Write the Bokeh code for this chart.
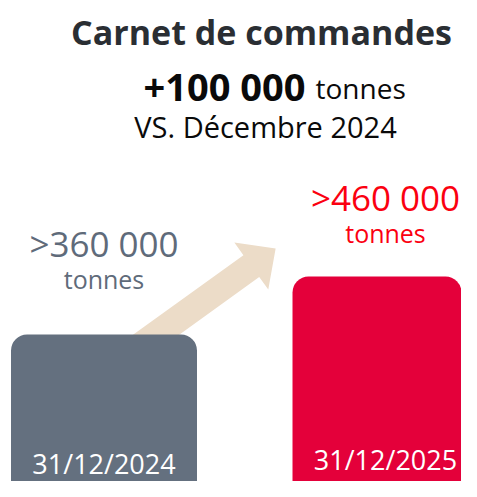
import math
from bokeh.plotting import figure
from bokeh.models import Range1d
from bokeh.embed import file_html
from bokeh.resources import INLINE
from bokeh.core.properties import value

# ---- data ----
categories = ["31/12/2024", "31/12/2025"]
values = [360000, 460000]
value_labels = [">360 000", ">460 000"]
unit_label = "tonnes"
title_text = "Carnet de commandes"
delta_text = "+100 000"
compare_text = "VS. Décembre 2024"

# ---- styles ----
bar_colors = ["#64707f", "#e4003a"]
label_colors = ["#5f6b7a", "#fb0010"]
FONT = value("Open Sans")

W, H = 461, 481
p = figure(width=W, height=H, output_backend="svg", toolbar_location=None,
           x_range=Range1d(-0.3677, 1.2700), y_range=Range1d(106552, 935862),
           x_axis_location=None, y_axis_location=None, min_border=0)
p.grid.visible = False
p.outline_line_color = None
p.background_fill_color = "white"
p.border_fill_color = "white"
p.extra_x_ranges = {"px": Range1d(0, W)}
p.extra_y_ranges = {"px": Range1d(H, 0)}

# ---- decorative arrow (screen-pixel geometry) ----
ang = math.radians(35.8)
ux, uy = math.cos(ang), -math.sin(ang)
nx, ny = -uy, ux
tail = (132.4, 351.0)
shaft_len, head_len = 146.0, 30.0
sw, hw = 13.5, 29.0
bx, by = tail[0] + shaft_len * ux, tail[1] + shaft_len * uy
tip = (bx + head_len * ux, by + head_len * uy)
ax = [tail[0] + sw * nx, bx + sw * nx, bx + hw * nx, tip[0], bx - hw * nx, bx - sw * nx, tail[0] - sw * nx]
ay = [tail[1] + sw * ny, by + sw * ny, by + hw * ny, tip[1], by - hw * ny, by - sw * ny, tail[1] - sw * ny]
p.patch(ax, ay, fill_color="#ecdcc8", line_color=None, x_range_name="px", y_range_name="px")

# ---- bars ----
xs = list(range(len(categories)))
p.vbar(x=xs, top=values, bottom=0, width=0.6607, fill_color=bar_colors,
       line_color=None, border_radius=(16, 16, 0, 0))

# ---- header texts ----
p.text(x=[261], y=[31], text=[title_text], x_range_name="px", y_range_name="px",
       text_font=FONT, text_font_style="bold", text_font_size="34px",
       text_align="center", text_baseline="alphabetic", text_color="#2a2e33")
p.text(x=[305], y=[85], text=[delta_text], x_range_name="px", y_range_name="px",
       text_font=FONT, text_font_style="bold", text_font_size="38px",
       text_align="right", text_baseline="alphabetic", text_color="#0a0a0a")
p.text(x=[315], y=[87], text=[unit_label], x_range_name="px", y_range_name="px",
       text_font=FONT, text_font_size="28px",
       text_align="left", text_baseline="alphabetic", text_color="#0a0a0a")
p.text(x=[265], y=[126], text=[compare_text], x_range_name="px", y_range_name="px",
       text_font=FONT, text_font_size="29px",
       text_align="center", text_baseline="alphabetic", text_color="#0a0a0a")

# ---- bar labels ----
p.text(x=xs, y=[243, 197], text=value_labels, y_range_name="px",
       text_font=FONT, text_font_size="35px", text_align="center",
       text_baseline="alphabetic", text_color=label_colors)
p.text(x=xs, y=[278, 232], text=[unit_label] * len(xs), y_range_name="px",
       text_font=FONT, text_font_size="25px", text_align="center",
       text_baseline="alphabetic", text_color=label_colors)
p.text(x=xs, y=[463, 459], text=categories, y_range_name="px",
       text_font=FONT, text_font_size="27px", text_align="center",
       text_baseline="alphabetic", text_color="white")

open("out.html", "w").write(file_html(p, INLINE))
